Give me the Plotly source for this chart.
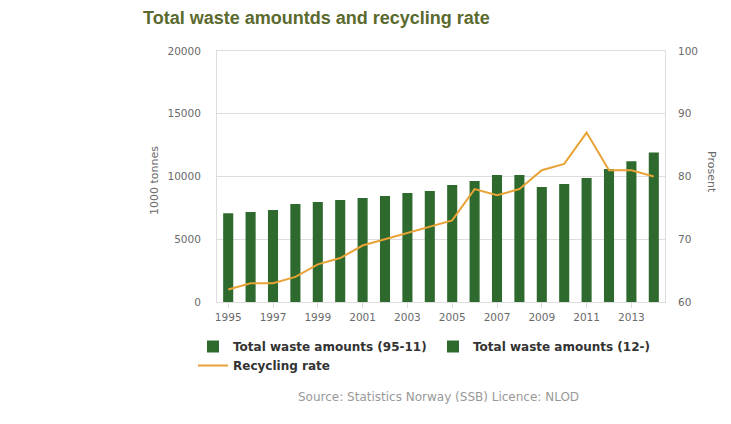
import plotly.graph_objects as go

years = list(range(1995, 2015))
waste_95_11 = [7070, 7170, 7330, 7810, 7970, 8130, 8290, 8450, 8690, 8850,
               9330, 9650, 10120, 10120, 9160, 9410, 9880]
waste_12 = [10600, 11210, 11920]
recycling = [62, 63, 63, 64, 66, 67, 69, 70, 71, 72, 73, 78, 77, 78, 81, 82, 87, 81, 81, 80]
tick_years = list(range(1995, 2014, 2))
left_ticks = [0, 5000, 10000, 15000, 20000]
right_ticks = [60, 70, 80, 90, 100]

x_all = [str(y) for y in years]
x_a = x_all[:17]
x_b = x_all[17:]

BAR = "#2e6a2e"
LINE = "#e9a235"
GRID = "#dddddd"
TICK = "#6a6a6a"
FONT = "DejaVu Sans"

# plot area in pixels
L, R, T, B = 217, 665, 51, 302
def px(x):
    return (x - L) / (R - L)
def py(y):
    return (B - y) / (B - T)

fig = go.Figure()
fig.add_trace(go.Bar(x=x_a, y=waste_95_11, name="Total waste amounts (95-11)",
                     marker=dict(color=BAR, line=dict(width=0)), width=0.45))
fig.add_trace(go.Bar(x=x_b, y=waste_12, name="Total waste amounts (12-)",
                     marker=dict(color=BAR, line=dict(width=0)), width=0.45))
fig.add_trace(go.Scatter(x=x_all, y=recycling, name="Recycling rate", mode="lines",
                         line=dict(color=LINE, width=2), yaxis="y2"))

fig.update_layout(
    width=731, height=424,
    margin=dict(l=L, r=731 - R, t=T, b=424 - B),
    paper_bgcolor="white", plot_bgcolor="white",
    barmode="overlay",
    showlegend=True,
    title=dict(text="<b>Total waste amountds and recycling rate</b>",
               font=dict(family="Liberation Sans, Arial", size=18, color="#5b6a2e"),
               x=143/731, xanchor="left", xref="container",
               y=1 - 18/424, yanchor="middle", yref="container"),
    xaxis=dict(type="category", range=[-0.5, 19.5],
               tickmode="array", tickvals=[str(y) for y in tick_years],
               ticktext=[str(y) for y in tick_years],
               ticks="outside", ticklen=5, tickcolor=GRID,
               showgrid=False, showline=True, linecolor=GRID, linewidth=1, mirror=True,
               tickfont=dict(family=FONT, size=10.5, color=TICK)),
    yaxis=dict(range=[0, 20000], tickvals=left_ticks, ticktext=[str(v) for v in left_ticks],
               showgrid=True, gridcolor=GRID, zeroline=False,
               showline=True, linecolor=GRID, mirror=True,
               tickfont=dict(family=FONT, size=10.5, color=TICK),
               ticklabelstandoff=13),
    yaxis2=dict(range=[60, 100], tickvals=right_ticks, ticktext=[str(v) for v in right_ticks],
                overlaying="y", side="right", showgrid=False, zeroline=False, showline=False,
                tickfont=dict(family=FONT, size=10.5, color=TICK),
                ticklabelstandoff=12),
    legend=dict(orientation="h", x=px(213 - 20), xanchor="left", y=py(332), yanchor="top",
                font=dict(family="DejaVu Sans", size=12, color="#333333", weight="bold"),
                entrywidth=195, entrywidthmode="pixels", traceorder="normal",
                itemwidth=30, tracegroupgap=0),
    annotations=[
        dict(text="1000 tonnes", textangle=-90, x=px(154), xref="paper", y=py(181), yref="paper",
             showarrow=False, font=dict(family=FONT, size=11, color=TICK),
             xanchor="center", yanchor="middle"),
        dict(text="Prosent", textangle=90, x=px(712), xref="paper", y=py(172), yref="paper",
             showarrow=False, font=dict(family=FONT, size=11, color=TICK),
             xanchor="center", yanchor="middle"),
        dict(text="Source: Statistics Norway (SSB) Licence: NLOD", x=px(438), xref="paper",
             y=py(397), yref="paper", showarrow=False,
             font=dict(family=FONT, size=12, color="#999999"), xanchor="center", yanchor="middle"),
    ],
)

fig.write_html("out.html")
